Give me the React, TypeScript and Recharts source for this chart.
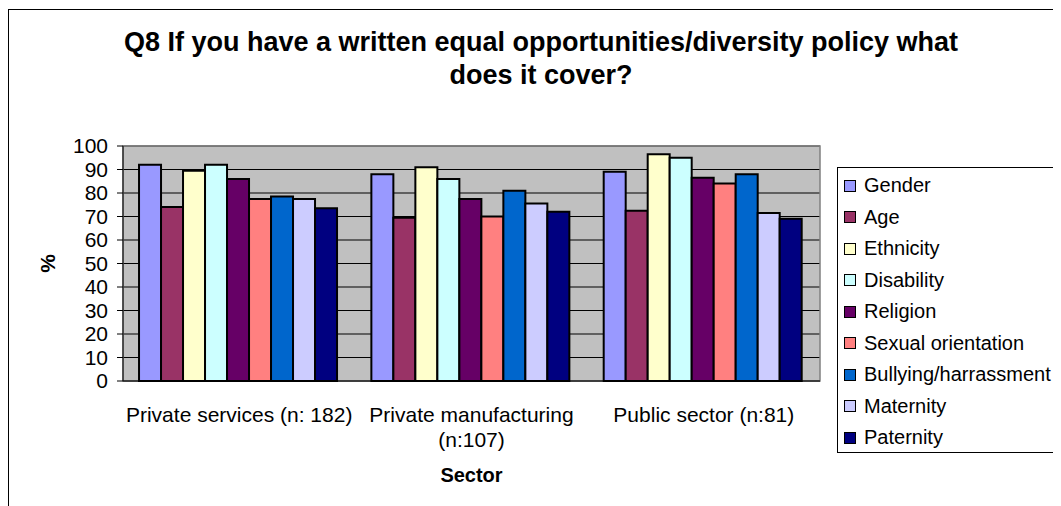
import React from 'react';
import { BarChart, Bar, XAxis, YAxis, CartesianGrid, ReferenceArea } from 'recharts';

const CATEGORIES = ['Private services (n: 182)', 'Private manufacturing (n:107)', 'Public sector (n:81)'];
const SERIES_NAMES = ['Gender', 'Age', 'Ethnicity', 'Disability', 'Religion', 'Sexual orientation', 'Bullying/harrassment', 'Maternity', 'Paternity'];
const GENDER = [92, 88, 89];
const AGE = [74, 69.5, 72.5];
const ETHNICITY = [89.5, 91, 96.5];
const DISABILITY = [92, 86, 95];
const RELIGION = [86, 77.5, 86.5];
const SEXUAL_ORIENTATION = [77.5, 70, 84];
const BULLYING = [78.5, 81, 88];
const MATERNITY = [77.5, 75.5, 71.5];
const PATERNITY = [73.5, 72, 69];
const SERIES_VALUES = [GENDER, AGE, ETHNICITY, DISABILITY, RELIGION, SEXUAL_ORIENTATION, BULLYING, MATERNITY, PATERNITY];
const SERIES_COLORS = ['#9999FF', '#993366', '#FFFFCC', '#CCFFFF', '#660066', '#FF8080', '#0066CC', '#CCCCFF', '#000080'];
const Y_TICKS = [0, 10, 20, 30, 40, 50, 60, 70, 80, 90, 100];
const EDGE_TICKS = [0, 1, 2, 3];
const TITLE = 'Q8 If you have a written equal opportunities/diversity policy what does it cover?';
const X_LABEL = 'Sector';
const Y_LABEL = '%';

const FONT = '"Liberation Sans", Arial, sans-serif';
const TICK_FONT_SIZE = 21;

const data = CATEGORIES.map((c, i) => {
  const row: Record<string, string | number> = { category: c };
  SERIES_NAMES.forEach((n, s) => {
    row[n] = SERIES_VALUES[s][i];
  });
  return row;
});

let measureCtx: CanvasRenderingContext2D | null = null;
function measure(text: string): number {
  if (!measureCtx) {
    const c = document.createElement('canvas');
    measureCtx = c.getContext('2d');
  }
  if (!measureCtx) return text.length * TICK_FONT_SIZE * 0.5;
  measureCtx.font = `${TICK_FONT_SIZE}px ${FONT}`;
  return measureCtx.measureText(text).width;
}

function wrap(text: string, maxWidth: number): string[] {
  const words = text.split(' ');
  const lines: string[] = [];
  let cur = '';
  words.forEach((w) => {
    const next = cur ? `${cur} ${w}` : w;
    if (cur && measure(next) > maxWidth) {
      lines.push(cur);
      cur = w;
    } else {
      cur = next;
    }
  });
  if (cur) lines.push(cur);
  return lines;
}

function CategoryTick(props: any) {
  const { x, y, payload } = props;
  const lines = wrap(String(payload.value), 232);
  return (
    <text
      x={x}
      y={y + 41}
      textAnchor="middle"
      fontSize={TICK_FONT_SIZE}
      fontFamily={FONT}
      fill="#000"
    >
      {lines.map((l, i) => (
        <tspan key={i} x={x} dy={i === 0 ? 0 : 25}>
          {l}
        </tspan>
      ))}
    </text>
  );
}

function XLabel(props: any) {
  const { viewBox } = props;
  return (
    <text
      x={viewBox.x + viewBox.width / 2}
      y={viewBox.y + 101}
      textAnchor="middle"
      fontFamily={FONT}
      fontSize={20}
      fontWeight="bold"
      fill="#000"
    >
      {X_LABEL}
    </text>
  );
}

function YLabel(props: any) {
  const { viewBox } = props;
  const cx = viewBox.x + 8;
  const cy = viewBox.y + viewBox.height / 2;
  return (
    <text
      x={cx}
      y={cy}
      transform={`rotate(-90 ${cx} ${cy})`}
      textAnchor="middle"
      fontFamily={FONT}
      fontSize={21}
      fontWeight="bold"
      fill="#000"
    >
      {Y_LABEL}
    </text>
  );
}

export default function App() {
  return (
    <div style={{ position: 'relative', width: 1053, height: 498, overflow: 'hidden', fontFamily: FONT }}>
      <style>{`body{overflow:hidden;}`}</style>
      <div
        style={{
          position: 'absolute',
          left: 0,
          top: 1,
          width: 2000,
          height: 2000,
          borderTop: '1px solid #000',
          borderLeft: '1px solid #000',
        }}
      />
      <div
        style={{
          position: 'absolute',
          left: 108,
          top: 18,
          width: 850,
          textAlign: 'center',
          fontFamily: FONT,
          fontWeight: 'bold',
          fontSize: 27,
          lineHeight: '33px',
          color: '#000',
        }}
      >
        {TITLE}
      </div>
      <div style={{ position: 'absolute', left: 0, top: 0 }}>
        <BarChart
          width={1053}
          height={498}
          data={data}
          margin={{ top: 138, right: 241, bottom: 65, left: 39 }}
          barCategoryGap="6.9%"
          barGap={0}
        >
          <CartesianGrid
            vertical={false}
            horizontal
            stroke="#000"
            strokeWidth={1}
            fill="#C0C0C0"
            fillOpacity={1}
          />
          <ReferenceArea y1={0} y2={100} fill="none" stroke="#808080" strokeWidth={1.5} ifOverflow="visible" />
          <XAxis
            xAxisId="edge"
            type="number"
            domain={[0, 3]}
            ticks={EDGE_TICKS}
            tick={false}
            axisLine={false}
            tickLine={{ stroke: '#000', strokeWidth: 1 }}
            tickSize={6}
            height={0}
            allowDataOverflow
          />
          <XAxis
            dataKey="category"
            tickLine={false}
            tickSize={0}
            tickMargin={0}
            axisLine={{ stroke: '#000' }}
            height={60}
            interval={0}
            tick={<CategoryTick />}
            label={<XLabel />}
          />
          <YAxis
            domain={[0, 100]}
            ticks={Y_TICKS}
            interval={0}
            width={76}
            tickSize={6}
            tickMargin={9}
            axisLine={{ stroke: '#000' }}
            tickLine={{ stroke: '#000' }}
            tick={{ fill: '#000', fontSize: 21, fontFamily: FONT }}
            label={<YLabel />}
          />
          {SERIES_NAMES.map((n, s) => (
            <Bar
              key={n}
              dataKey={n}
              fill={SERIES_COLORS[s]}
              stroke="#000"
              strokeWidth={2}
              isAnimationActive={false}
            />
          ))}
        </BarChart>
      </div>
      <div
        style={{
          position: 'absolute',
          left: 829,
          top: 159,
          width: 245,
          height: 286,
          border: '1px solid #000',
          boxSizing: 'border-box',
          background: '#fff',
          paddingTop: 2,
        }}
      >
        {SERIES_NAMES.map((n, s) => (
          <div
            key={n}
            style={{
              height: 31.5,
              display: 'flex',
              alignItems: 'center',
              fontFamily: FONT,
              fontSize: 20,
              color: '#000',
              whiteSpace: 'nowrap',
            }}
          >
            <span
              style={{
                display: 'inline-block',
                width: 12,
                height: 12,
                boxSizing: 'border-box',
                border: '1.5px solid #000',
                background: SERIES_COLORS[s],
                marginLeft: 6,
                marginRight: 8,
              }}
            />
            {n}
          </div>
        ))}
      </div>
    </div>
  );
}
